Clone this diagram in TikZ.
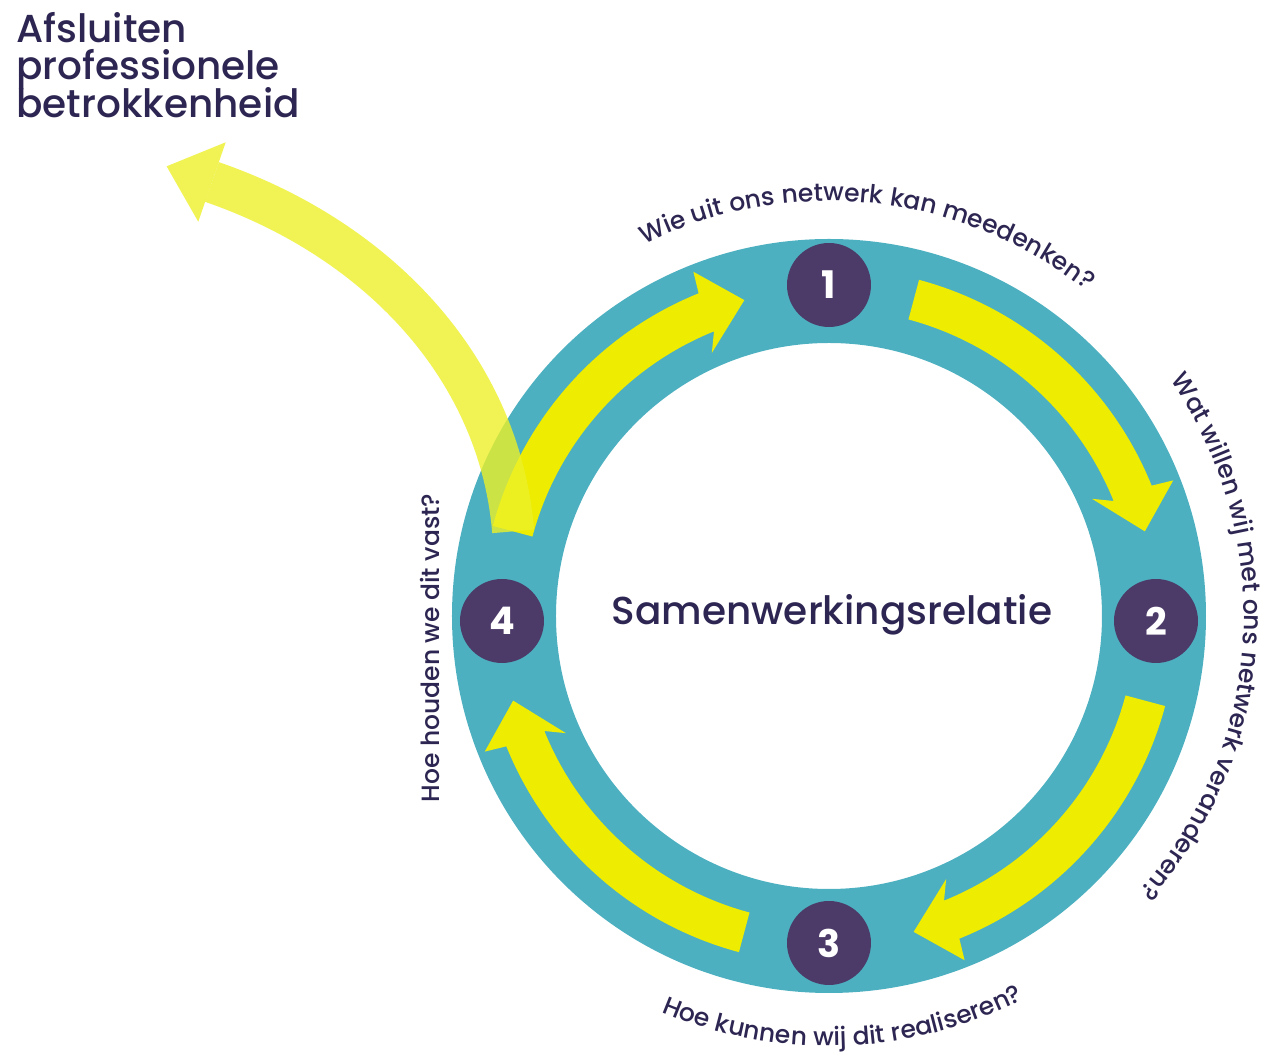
\documentclass[tikz,border=0pt]{standalone}
\usepackage{fontspec}
\setmainfont{Poppins}
\newfontfamily\medfont{Poppins Medium}
\usetikzlibrary{calc,decorations.text}

\definecolor{ringteal}{RGB}{77,176,192}
\definecolor{ringyellow}{RGB}{238,236,0}
\definecolor{exityellow}{RGB}{236,240,40}
\definecolor{dotpurple}{RGB}{76,58,104}
\definecolor{inkpurple}{RGB}{46,38,82}

\newcommand{\curvefont}{\medfont\fontsize{25}{25}\selectfont}

\tikzset{
  numdot/.style={circle,fill=dotpurple,minimum size=84pt,inner sep=0pt,text=white,
    font=\fontsize{38}{38}\selectfont\bfseries},
  titletext/.style={anchor=base west,inner sep=0pt,text=inkpurple,
    font=\medfont\fontsize{39}{39}\selectfont},
  midtext/.style={anchor=base,inner sep=0pt,text=inkpurple,
    font=\medfont\fontsize{39}{39}\selectfont},
  ringtext/.style={decorate,decoration={text along path,text align=center,
    text color=inkpurple,text={|\curvefont|#1}}},
}

\begin{document}
\begin{tikzpicture}[x=1pt,y=1pt]
  \useasboundingbox (-829,-440) rectangle (446,616);
  % ring
  \fill[ringteal,even odd rule] (0,0) circle[radius=377] (0,0) circle[radius=273];
  % yellow arrows on the ring
  \foreach \n in {0,1,2,3}{
    \pgfmathsetmacro{\tailang}{75-90*\n}
    \pgfmathsetmacro{\baseang}{22-90*\n}
    \fill[ringyellow] (\tailang:307) arc[start angle=\tailang,end angle=\baseang,radius=307]
      -- (\baseang+2:288) -- (\baseang-7:327) -- (\baseang-0.5:370)
      -- (\baseang:348) arc[start angle=\baseang,end angle=\tailang,radius=348] -- cycle;
  }
  % way out
  \coordinate (exitS) at (165:327);
  \coordinate (exitC1) at (-329,246);
  \coordinate (exitC2) at (-449,376);
  \coordinate (exitE) at (-617,434);
  \draw[exityellow,opacity=.8,line width=42pt] (exitS) .. controls (exitC1) and (exitC2) .. (exitE);
  \fill[exityellow,opacity=.8] ($(exitE)!42pt!90:(exitC2)$) -- ($(exitE)!-48pt!(exitC2)$)
    -- ($(exitE)!42pt!-90:(exitC2)$) -- cycle;
  % steps
  \node[numdot] (n1) at (0,331) {1};
  \node[numdot] (n2) at (327,-5) {2};
  \node[numdot] (n3) at (0,-327) {3};
  \node[numdot] (n4) at (-327,-5) {4};
  \node[midtext] (rel) at (3,-9) {Samenwerkingsrelatie};
  % questions
  \path[ringtext={Wie uit ons netwerk kan meedenken?}] (130:415) arc[start angle=130,end angle=38,radius=415];
  \path[ringtext={Wat willen wij met ons netwerk veranderen?}] (47:415) arc[start angle=47,end angle=-54,radius=415];
  \path[ringtext={Hoe kunnen wij dit realiseren?}] (-137:430) arc[start angle=-137,end angle=-39,radius=430];
  \path[ringtext={Hoe houden we dit vast?}] (-389,-215) -- (-389,151);
  % title
  \node[titletext] (t1) at (-813,573) {Afsluiten};
  \node[titletext] (t2) at (-813,536) {professionele};
  \node[titletext] (t3) at (-813,498) {betrokkenheid};
\end{tikzpicture}
\end{document}
